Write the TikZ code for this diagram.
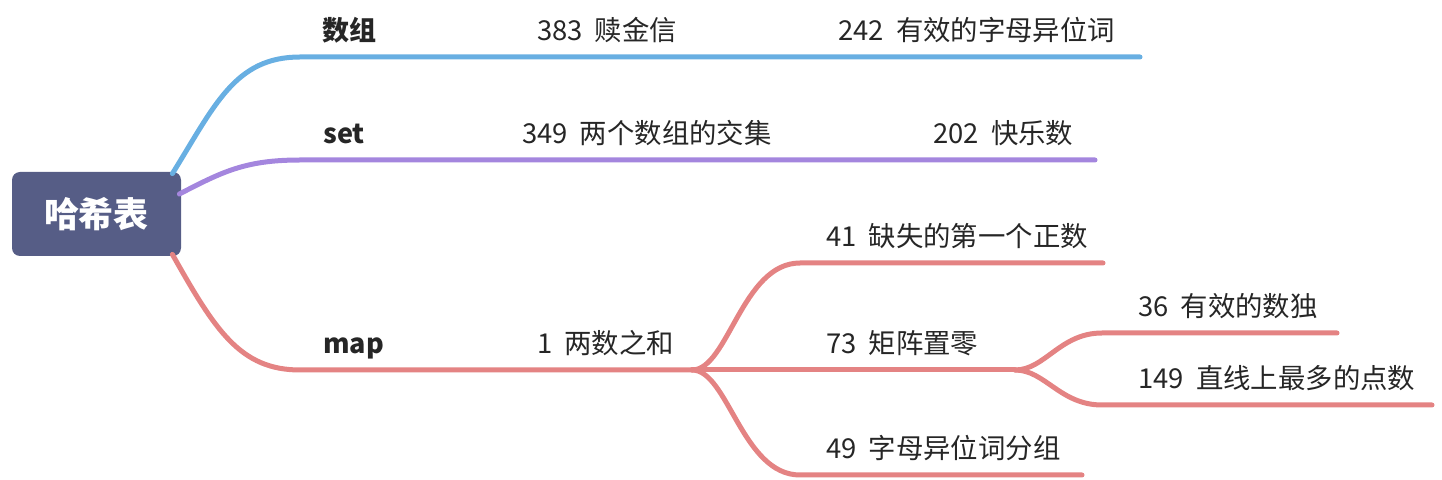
\documentclass[tikz,border=0pt]{standalone}
\usepackage{fontspec}
\setmainfont{Noto Sans CJK SC}
\definecolor{cblue}{HTML}{68AFE2}
\definecolor{cpurple}{HTML}{A486DE}
\definecolor{cred}{HTML}{E48383}
\definecolor{croot}{HTML}{565D86}
\definecolor{ctext}{HTML}{262626}
\newcommand{\leafstyle}{\fontsize{13.7pt}{16pt}\selectfont\spaceskip=6pt\relax}
\tikzset{
  rootbox/.style={fill=croot, rounded corners=4pt, minimum width=84.5pt, minimum height=42pt, inner sep=0pt, text=white, font=\fontsize{17.5pt}{20pt}\selectfont\bfseries},
  lvlone/.style={anchor=base west, inner sep=0pt, text=ctext, font=\fontsize{13.5pt}{16pt}\selectfont\bfseries},
  lvltwo/.style={anchor=base west, inner sep=0pt, text=ctext, font=\leafstyle},
  branch/.style={line width=2.5pt, line cap=round}
}
\begin{document}
\begin{tikzpicture}[x=0.5pt,y=-0.5pt]
\useasboundingbox (0,0) rectangle (1442,480);
% root
\node[rootbox] (root) at (96.5,214) {哈希表};
% level texts
\node[lvlone] (arr) at (322,41) {数组};
\node[lvltwo] (p383) at (537,41) {383 赎金信};
\node[lvltwo] (p242) at (838,41) {242 有效的字母异位词};
\node[lvlone] (set) at (323,144) {set};
\node[lvltwo] (p349) at (522,144) {349 两个数组的交集};
\node[lvltwo] (p202) at (933,144) {202 快乐数};
\node[lvlone] (map) at (323,354) {map};
\node[lvltwo] (p1) at (537,354) {1 两数之和};
\node[lvltwo] (p41) at (826,247) {41 缺失的第一个正数};
\node[lvltwo] (p73) at (826,354) {73 矩阵置零};
\node[lvltwo] (p49) at (826,459) {49 字母异位词分组};
\node[lvltwo] (p36) at (1138,317) {36 有效的数独};
\node[lvltwo] (p149) at (1138,389) {149 直线上最多的点数};
% coordinates of underlines
\coordinate (a0) at (300,57);
\coordinate (a1) at (1140,57);
\coordinate (s0) at (300,160);
\coordinate (s1) at (1095,160);
\coordinate (m0) at (300,370);
\coordinate (msplit) at (692,370);
\coordinate (q41s) at (800,263);
\coordinate (q41e) at (1103,263);
\coordinate (q73split) at (1015,370);
\coordinate (q49s) at (800,475);
\coordinate (q49e) at (1082,475);
\coordinate (q36s) at (1102,333);
\coordinate (q36e) at (1337,333);
\coordinate (q149s) at (1102,405);
\coordinate (q149e) at (1432,405);
% branches
\draw[branch, cblue] ([xshift=-4.5pt,yshift=-1pt]root.north east) .. controls (215,105) and (235,57) .. (a0) -- (a1);
\draw[branch, cpurple] ([xshift=-1pt,yshift=10pt]root.east) .. controls (222,172) and (245,160) .. (s0) -- (s1);
\draw[branch, cred] ([xshift=-4.5pt,yshift=1pt]root.south east) .. controls (215,330) and (240,370) .. (m0) -- (msplit);
\draw[branch, cred] (msplit) .. controls (728,370) and (742,263) .. (q41s) -- (q41e);
\draw[branch, cred] (msplit) -- (q73split);
\draw[branch, cred] (msplit) .. controls (728,370) and (742,475) .. (q49s) -- (q49e);
\draw[branch, cred] (q73split) .. controls (1045,370) and (1060,333) .. (q36s) -- (q36e);
\draw[branch, cred] (q73split) .. controls (1045,370) and (1060,405) .. (q149s) -- (q149e);
\end{tikzpicture}
\end{document}
